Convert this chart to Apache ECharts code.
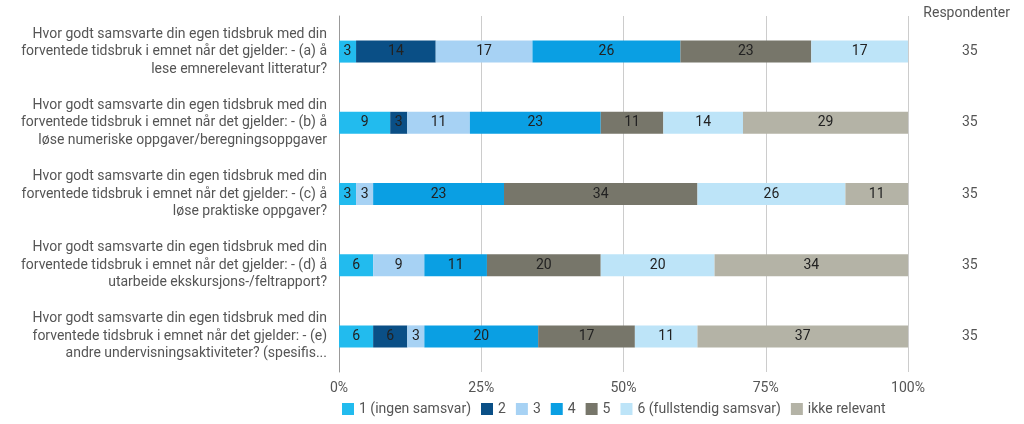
<!DOCTYPE html>
<html><head><meta charset="utf-8">
<script src="https://cdn.jsdelivr.net/npm/echarts@6/dist/echarts.min.js"></script>
<style>html,body{margin:0;padding:0;background:#fff}#c{width:1024px;height:424px}</style>
</head><body><div id="c"></div>
<script>
const categories = [
  "Hvor godt samsvarte din egen tidsbruk med din\nforventede tidsbruk i emnet når det gjelder: - (a) å\nlese emnerelevant litteratur?",
  "Hvor godt samsvarte din egen tidsbruk med din\nforventede tidsbruk i emnet når det gjelder: - (b) å\nløse numeriske oppgaver/beregningsoppgaver",
  "Hvor godt samsvarte din egen tidsbruk med din\nforventede tidsbruk i emnet når det gjelder: - (c) å\nløse praktiske oppgaver?",
  "Hvor godt samsvarte din egen tidsbruk med din\nforventede tidsbruk i emnet når det gjelder: - (d) å\nutarbeide ekskursjons-/feltrapport?",
  "Hvor godt samsvarte din egen tidsbruk med din\nforventede tidsbruk i emnet når det gjelder: - (e)\nandre undervisningsaktiviteter? (spesifis..."
];
const respondents = ["35", "35", "35", "35", "35"];
const seriesNames = ["1 (ingen samsvar)", "2", "3", "4", "5", "6 (fullstendig samsvar)", "ikke relevant"];
const s1 = [3, 9, 3, 6, 6];
const s2 = [14, 3, 0, 0, 6];
const s3 = [17, 11, 3, 9, 3];
const s4 = [26, 23, 23, 11, 20];
const s5 = [23, 11, 34, 20, 17];
const s6 = [17, 14, 26, 20, 11];
const sIkke = [0, 29, 11, 34, 37];
const tickLabels = ["0%", "25%", "50%", "75%", "100%"];
const colors = ["#22bbee", "#0a4f86", "#a7d2f4", "#0a9fe3", "#77766a", "#bde4f8", "#b4b3a6"];

const seriesData = [s1, s2, s3, s4, s5, s6, sIkke];
const chart = echarts.init(document.getElementById('c'));
const font = 'Roboto';
chart.setOption({
  animation: false,
  textStyle: {fontFamily: font},
  color: colors,
  title: {text: 'Respondenter', right: 9, top: 1, textStyle: {fontFamily: font, fontSize: 14, fontWeight: 'normal', color: '#555'}},
  grid: {left: 339, right: 116, top: 16, bottom: 52, containLabel: false},
  legend: {
    bottom: 3, left: 337, itemWidth: 12, itemHeight: 12, itemGap: 10,
    icon: 'rect',
    textStyle: {fontFamily: font, fontSize: 14, color: '#555'},
    data: seriesNames
  },
  xAxis: {
    type: 'value', min: 0, max: 100, interval: 25,
    axisLine: {show: false}, axisTick: {show: false},
    splitLine: {lineStyle: {color: '#ccc'}},
    axisLabel: {formatter: v => tickLabels[v / 25], color: '#555', fontSize: 14, margin: 9}
  },
  yAxis: [{
    type: 'category', inverse: true, data: categories,
    axisLine: {show: true, lineStyle: {color: '#999'}}, axisTick: {show: false},
    axisLabel: {color: '#555', fontSize: 14, lineHeight: 17.5, margin: 12, align: 'right'}
  }, {
    type: 'category', inverse: true, data: respondents, position: 'right',
    axisLine: {show: false}, axisTick: {show: false},
    axisLabel: {color: '#555', fontSize: 14, margin: 54}
  }],
  series: seriesData.map((d, i) => ({
    name: seriesNames[i], type: 'bar', stack: 'total', barWidth: 22,
    data: d.map(v => v === 0 ? null : v),
    label: {show: true, position: 'inside', color: '#222', fontSize: 14, fontFamily: font},
    itemStyle: {color: colors[i]}
  }))
});
</script></body></html>
